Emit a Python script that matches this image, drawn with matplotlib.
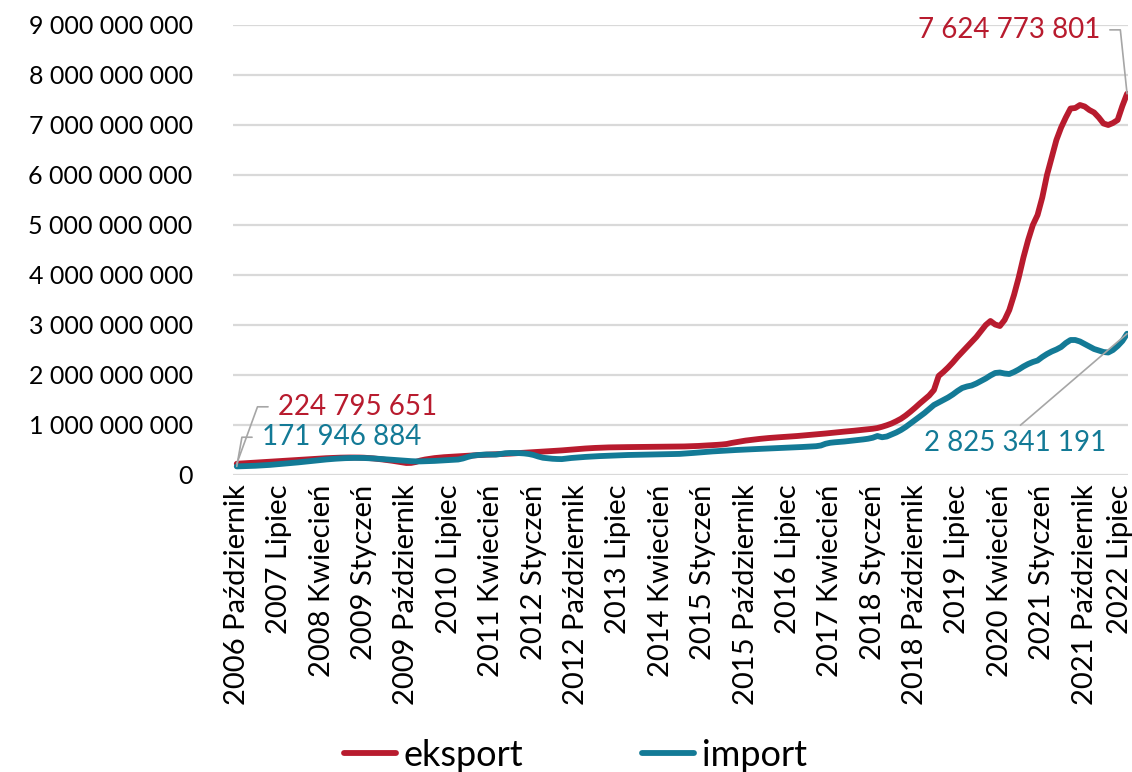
import matplotlib.pyplot as plt
import matplotlib.ticker as mticker
import matplotlib.transforms as mtransforms
from matplotlib.lines import Line2D

plt.rcParams['font.family'] = ['Lato', 'DejaVu Sans']

# Monthly data, Oct 2006 - Jul 2022, values in millions
months = ["Styczeń", "Luty", "Marzec", "Kwiecień", "Maj", "Czerwiec", "Lipiec",
          "Sierpień", "Wrzesień", "Październik", "Listopad", "Grudzień"]
start_year, start_month = 2006, 10
n_points = 190

eksport_mln = [
    224.795651, 230, 236, 242, 248, 254, 260, 266, 272, 278,
    284, 290, 296, 302, 308, 314, 320, 326, 331, 336,
    340, 344, 347, 349, 350, 350, 349, 346, 340, 332,
    322, 310, 298, 285, 270, 255, 240, 242, 260, 290,
    310, 325, 338, 348, 356, 362, 368, 374, 380, 386,
    392, 398, 402, 406, 410, 414, 418, 422, 428, 434,
    440, 446, 452, 458, 464, 470, 475, 480, 485, 492,
    500, 508, 515, 522, 530, 536, 541, 545, 549, 552,
    554, 556, 557, 558, 559, 560, 561, 562, 563, 564,
    565, 566, 567, 568, 569, 571, 574, 577, 581, 586,
    591, 597, 603, 610, 620, 640, 655, 672, 688, 700,
    712, 722, 732, 740, 748, 754, 760, 765, 772, 780,
    788, 796, 804, 812, 820, 830, 840, 850, 860, 868,
    876, 885, 895, 905, 915, 925, 940, 965, 995, 1030,
    1075, 1125, 1190, 1265, 1345, 1430, 1510, 1590, 1700, 1980,
    2060, 2150, 2250, 2360, 2460, 2560, 2660, 2760, 2880, 3000,
    3080, 3010, 2980, 3100, 3300, 3600, 3950, 4350, 4700, 5000,
    5200, 5550, 6000, 6350, 6700, 6950, 7150, 7330, 7340, 7400,
    7370, 7300, 7250, 7150, 7030, 7000, 7040, 7100, 7380, 7624.773801,
]

import_mln = [
    171.946884, 175, 178, 181, 185, 190, 196, 202, 210, 218,
    226, 234, 243, 252, 262, 272, 282, 292, 302, 311,
    319, 326, 332, 337, 340, 342, 342, 340, 336, 331,
    325, 318, 311, 304, 297, 290, 283, 277, 273, 272,
    275, 278, 282, 288, 294, 300, 305, 310, 330, 360,
    385, 398, 405, 410, 410, 408, 420, 435, 440, 440,
    438, 432, 420, 400, 370, 345, 335, 325, 320, 318,
    330, 340, 348, 355, 362, 368, 374, 378, 382, 386,
    390, 394, 398, 400, 402, 404, 406, 408, 410, 412,
    414, 416, 418, 420, 422, 428, 435, 442, 450, 458,
    466, 472, 478, 484, 490, 495, 500, 505, 510, 514,
    518, 522, 526, 530, 534, 538, 542, 546, 550, 555,
    560, 565, 570, 576, 590, 625, 645, 655, 662, 670,
    680, 690, 700, 712, 725, 745, 780, 755, 770, 810,
    850, 900, 960, 1030, 1100, 1170, 1240, 1320, 1400, 1450,
    1500, 1550, 1610, 1680, 1740, 1770, 1790, 1830, 1880, 1930,
    1990, 2040, 2050, 2030, 2020, 2060, 2110, 2170, 2220, 2260,
    2290, 2360, 2420, 2470, 2510, 2560, 2640, 2700, 2700, 2670,
    2620, 2570, 2520, 2490, 2460, 2450, 2500, 2580, 2680, 2825.341191,
]

# category labels: "2006 Październik", ...
labels = []
for k in range(n_points):
    m = start_month - 1 + k
    labels.append(f"{start_year + m // 12} {months[m % 12]}")
label_step = 9

RED = "#B81B2E"
TEAL = "#137A96"
GRAY = "#A6A6A6"
FS = 18
LW = 4.2


def spaced(v):
    return f"{v:,.0f}".replace(",", " ")


eksport = [v * 1e6 for v in eksport_mln]
imp = [v * 1e6 for v in import_mln]
x = list(range(n_points))

fig = plt.figure(figsize=(11.32, 7.72), dpi=100)
ax = fig.add_axes([233 / 1132, 1 - 475 / 772, (1128 - 233) / 1132, 450 / 772])

ax.plot(x, eksport, color=RED, lw=LW, solid_capstyle="round", zorder=3)
ax.plot(x, imp, color=TEAL, lw=LW, solid_capstyle="round", zorder=3)

ax.set_xlim(-0.8, n_points - 1 + 0.2)
ax.set_ylim(0, 9e9)
ax.set_yticks([i * 1e9 for i in range(10)])
ax.yaxis.set_major_formatter(mticker.FuncFormatter(lambda v, p: spaced(v)))
ax.set_xticks(x[::label_step])
ax.set_xticklabels(labels[::label_step], rotation=90, va="top", ha="center")
ax.tick_params(axis="y", length=0, pad=29, labelsize=FS)
ax.tick_params(axis="x", length=0, pad=7, labelsize=21)
# nudge the last category label inside the figure
lab = ax.get_xticklabels()[-1]
lab.set_transform(lab.get_transform() + mtransforms.ScaledTranslation(-7 / 100, 0, fig.dpi_scale_trans))
ax.grid(axis="y", color="#D9D9D9", lw=1.6)
ax.set_axisbelow(True)
for s in ax.spines.values():
    s.set_visible(False)

# data labels with leader lines
AFS = 20
last = n_points - 1
ax.annotate(spaced(eksport[-1]), xy=(last, eksport[-1]),
            xytext=(-19.4, 46), textcoords="offset points", ha="right", va="center",
            color=RED, fontsize=AFS, annotation_clip=False,
            arrowprops=dict(arrowstyle="-", color=GRAY, lw=1.2, shrinkA=5, shrinkB=0,
                            relpos=(1, 0.5), connectionstyle="angle,angleA=0,angleB=96,rad=0"))
ax.annotate(spaced(imp[-1]), xy=(last, imp[-1]),
            xytext=(-80.6, -78.5), textcoords="offset points", ha="center", va="center",
            color=TEAL, fontsize=AFS, annotation_clip=False,
            arrowprops=dict(arrowstyle="-", color=GRAY, lw=1.2, shrinkA=2, shrinkB=0,
                            relpos=(0.5, 1)))
ax.annotate(spaced(eksport[0]), xy=(0, eksport[0]),
            xytext=(29.5, 41), textcoords="offset points", ha="left", va="center",
            color=RED, fontsize=AFS, annotation_clip=False,
            arrowprops=dict(arrowstyle="-", color=GRAY, lw=1.2, shrinkA=5, shrinkB=0,
                            relpos=(0, 0.5), connectionstyle="angle,angleA=0,angleB=70,rad=0"))
ax.annotate(spaced(imp[0]), xy=(0, imp[0]),
            xytext=(18, 21), textcoords="offset points", ha="left", va="center",
            color=TEAL, fontsize=AFS, annotation_clip=False,
            arrowprops=dict(arrowstyle="-", color=GRAY, lw=1.2, shrinkA=5, shrinkB=0,
                            relpos=(0, 0.5), connectionstyle="angle,angleA=0,angleB=80,rad=0"))

handles = [Line2D([], [], color=RED, lw=LW, solid_capstyle="round", label="eksport"),
           Line2D([], [], color=TEAL, lw=LW, solid_capstyle="round", label="import")]
fig.legend(handles=handles, loc="center", bbox_to_anchor=(0.508, 0.022), ncol=2,
           frameon=False, fontsize=26, handlelength=1.45, handletextpad=0.2,
           columnspacing=3.3, borderpad=0)

fig.savefig("out.png", dpi=100)
